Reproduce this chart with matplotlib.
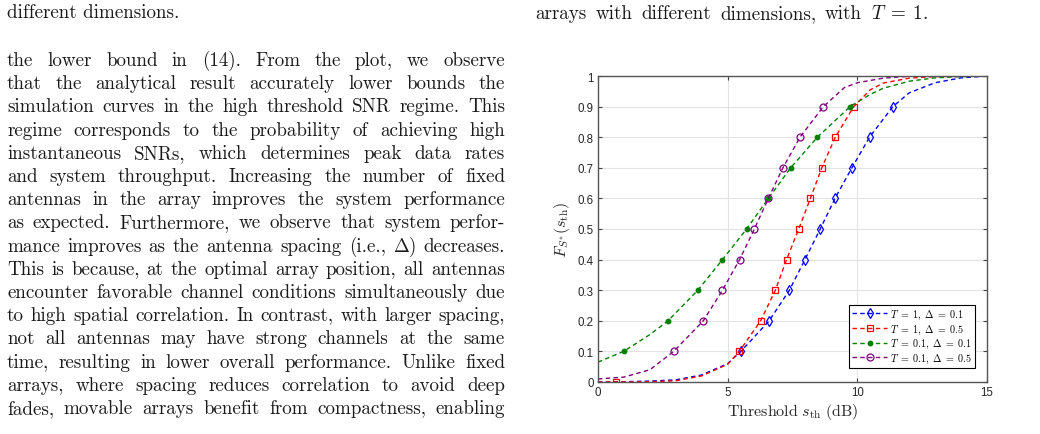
import matplotlib
matplotlib.use('Agg')
import matplotlib.pyplot as plt
import re

# --- data ---
# dashed curves (analytical)
blue_x = [0, 1, 2, 3, 4, 5, 5.51, 6.60, 7.38, 7.98, 8.57, 9.14, 9.79, 10.47, 11.37, 12, 13, 14, 15]
blue_y = [0, 0.001, 0.003, 0.007, 0.023, 0.06, 0.1, 0.2, 0.3, 0.4, 0.5, 0.6, 0.7, 0.8, 0.9, 0.945, 0.978, 0.994, 1.0]
red_x = [0, 0.68, 2, 3, 4, 5, 5.45, 6.27, 6.84, 7.27, 7.74, 8.19, 8.63, 9.15, 9.86, 10.5, 11, 12, 13, 15]
red_y = [0, 0, 0.001, 0.004, 0.02, 0.058, 0.1, 0.2, 0.3, 0.4, 0.5, 0.6, 0.7, 0.8, 0.9, 0.955, 0.977, 0.993, 0.998, 1.0]
green_x = [0, 0.99, 2, 2.70, 3.85, 4.80, 5.73, 6.57, 7.43, 8.46, 9.72, 10.5, 11, 12, 13, 14, 15]
green_y = [0.065, 0.1, 0.155, 0.2, 0.3, 0.4, 0.5, 0.6, 0.7, 0.8, 0.9, 0.94, 0.96, 0.983, 0.994, 0.998, 1.0]
purple_x = [0, 1, 2, 2.92, 4.06, 4.80, 5.46, 6.03, 6.57, 7.13, 7.79, 8.69, 9.5, 10, 11, 12, 15]
purple_y = [0.01, 0.016, 0.04, 0.1, 0.2, 0.3, 0.4, 0.5, 0.6, 0.7, 0.8, 0.9, 0.962, 0.978, 0.993, 0.999, 1.0]

# simulation markers (quantile points)
levels = [0.1, 0.2, 0.3, 0.4, 0.5, 0.6, 0.7, 0.8, 0.9]
blue_mx = [5.51, 6.60, 7.38, 7.98, 8.57, 9.14, 9.79, 10.47, 11.37]
red_mx = [0.68, 5.45, 6.27, 6.84, 7.27, 7.74, 8.19, 8.63, 9.15, 9.86]
red_levels = [0.0] + levels
green_mx = [0.99, 2.70, 3.85, 4.80, 5.73, 6.57, 7.43, 8.46, 9.72]
purple_mx = [2.92, 4.06, 4.80, 5.46, 6.03, 6.57, 7.13, 7.79, 8.69]

labels = [r'$T\;=\;1,\ \Delta\;=\;0.1$', r'$T\;=\;1,\ \Delta\;=\;0.5$',
          r'$T\;=\;0.1,\ \Delta\;=\;0.1$', r'$T\;=\;0.1,\ \Delta\;=\;0.5$']

xticks = [0, 5, 10, 15]
yticks = [0, 0.1, 0.2, 0.3, 0.4, 0.5, 0.6, 0.7, 0.8, 0.9, 1]
ytick_labels = ['0', '0.1', '0.2', '0.3', '0.4', '0.5', '0.6', '0.7', '0.8', '0.9', '1']

left_lines = [
    "the lower bound in (14). From the plot, we observe",
    "that the analytical result accurately lower bounds the",
    "simulation curves in the high threshold SNR regime. This",
    "regime corresponds to the probability of achieving high",
    "instantaneous SNRs, which determines peak data rates",
    "and system throughput. Increasing the number of fixed",
    "antennas in the array improves the system performance",
    "as expected. Furthermore, we observe that system perfor-",
    r"mance improves as the antenna spacing (i.e., $\Delta$) decreases.",
    "This is because, at the optimal array position, all antennas",
    "encounter favorable channel conditions simultaneously due",
    "to high spatial correlation. In contrast, with larger spacing,",
    "not all antennas may have strong channels at the same",
    "time, resulting in lower overall performance. Unlike fixed",
    "arrays, where spacing reduces correlation to avoid deep",
    "fades, movable arrays benefit from compactness, enabling",
]

plt.rcParams['mathtext.fontset'] = 'cm'
plt.rcParams['axes.unicode_minus'] = False

W, H = 1040, 435
fig = plt.figure(figsize=(W / 100, H / 100), dpi=100)
renderer = fig.canvas.get_renderer()

BODY = 13.7
INK = '#1a1a1a'


def px(x, y):
    return x / W, 1 - y / H


def justify(text, x0, x1, y):
    # place words one by one so the line fills the column
    words = re.findall(r'\S*\$[^$]*\$\S*|\S+', text)
    items = []
    total = 0
    for w in words:
        t = fig.text(*px(0, y), w, fontsize=BODY, family='cmr10', va='baseline', color=INK)
        wd = t.get_window_extent(renderer).width
        items.append((t, wd))
        total += wd
    gap = (x1 - x0 - total) / max(len(words) - 1, 1)
    x = x0
    for t, wd in items:
        t.set_position(px(x, y))
        x += wd + gap


fig.text(*px(7, 18), "different dimensions.", fontsize=BODY, family='cmr10', va='baseline', color=INK)
justify(r"arrays with different dimensions, with $T\;=\;1$.", 535, 928, 19)
for i, line in enumerate(left_lines):
    justify(line, 7, 505, 66 + i * 23.2)

# --- chart ---
ax = fig.add_axes([598 / W, 1 - 383 / H, 389 / W, 306 / H])
dash = (0, (3.2, 2.4))
series = [
    (blue_x, blue_y, blue_mx, levels, '#0000ff', 'd', 'none', 5),
    (red_x, red_y, red_mx, red_levels, '#ff0000', 's', 'none', 4),
    (green_x, green_y, green_mx, levels, '#008000', 'o', '#008000', 3.3),
    (purple_x, purple_y, purple_mx, levels, '#800080', 'o', 'none', 5),
]
handles = []
for (lx, ly, mx, my, c, m, fc, ms), lab in zip(series, labels):
    ax.plot(lx, ly, color=c, lw=1.0, linestyle=dash)
    ax.plot(mx, my, linestyle='none', marker=m, color=c, mfc=fc, ms=ms, mew=0.9)
    h, = ax.plot([], [], color=c, lw=1.0, linestyle=dash, marker=m, mfc=fc, ms=ms, mew=0.9)
    handles.append(h)

ax.set_xlim(0, 15)
ax.set_ylim(0, 1)
ax.set_xticks(xticks)
ax.set_yticks(yticks)
ax.set_yticklabels(ytick_labels)
ax.grid(True, color='#e3e3e3', lw=0.8)
ax.set_axisbelow(True)
ax.tick_params(direction='in', length=3, width=0.8, top=True, right=True, colors='#444444',
               labelsize=8.3, labelcolor='#262626', pad=3)
for lab in ax.get_xticklabels() + ax.get_yticklabels():
    lab.set_family('Liberation Sans')
for s in ax.spines.values():
    s.set_color('#555555')
    s.set_linewidth(1.0)

ax.set_xlabel(r'$\mathrm{Threshold}\ s_{\mathrm{th}}\ \mathrm{(dB)}$', fontsize=11.5, color='#262626', va='top')
ax.xaxis.set_label_coords(0.5, -0.062)
ax.set_ylabel(r'$F_{S^{*}}(s_{\mathrm{th}})$', fontsize=11.5, color='#262626')
ax.yaxis.set_label_coords(-0.066, 0.5)

leg = ax.legend(handles, labels, loc='lower right', bbox_to_anchor=(0.969, 0.046), borderaxespad=0,
                fontsize=7.3, handlelength=3.4, handletextpad=0.3, borderpad=0.3, labelspacing=0.12,
                fancybox=False, framealpha=1, edgecolor='black', numpoints=1)
leg.get_frame().set_linewidth(0.8)

fig.savefig('out.png', dpi=100, facecolor='white')
